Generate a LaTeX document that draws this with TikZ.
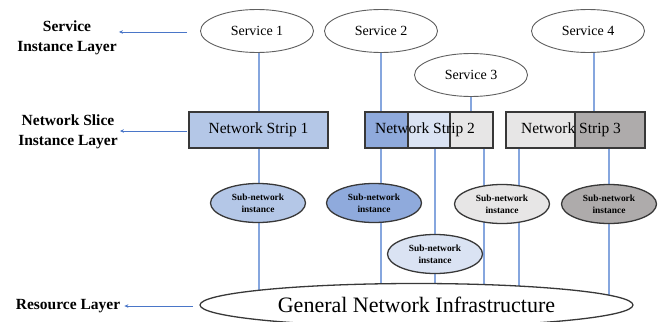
\documentclass[tikz,border=0pt]{standalone}
\usepackage{fontspec}
\setmainfont{Liberation Serif}
\usetikzlibrary{shapes.geometric,arrows.meta,backgrounds}

\definecolor{stripblue}{HTML}{B4C7E7}
\definecolor{deepblue}{HTML}{8FAADC}
\definecolor{paleblue}{HTML}{DAE3F3}
\definecolor{palegrey}{HTML}{E7E6E6}
\definecolor{darkgrey}{HTML}{AEABAB}
\definecolor{linkblue}{HTML}{86A6DE}
\definecolor{arrowblue}{HTML}{4A76C8}
\definecolor{edge}{HTML}{383838}

\tikzset{
  service/.style={ellipse, draw=edge!80, line width=0.9pt, fill=white, inner sep=0pt,
    minimum width=113pt, minimum height=43pt, font=\fontsize{14}{16}\selectfont},
  stripbox/.style={rectangle, draw=edge, line width=1.3pt, inner sep=0pt,
    minimum height=36pt, font=\fontsize{15.5}{18}\selectfont},
  subnet/.style={ellipse, draw=edge, line width=1.3pt, inner sep=0pt,
    minimum width=95pt, minimum height=39pt, align=center,
    font=\bfseries\fontsize{9.4}{12.3}\selectfont},
  layerlabel/.style={align=center, inner sep=2pt, font=\bfseries\fontsize{15.5}{20}\selectfont},
  layerarrow/.style={draw=arrowblue, line width=0.8pt, -{Stealth[length=4pt,width=3.5pt]}},
  link/.style={draw=linkblue, line width=1.8pt},
  striplabel/.style={inner sep=0pt, font=\fontsize{15.5}{18}\selectfont}
}

\begin{document}
\begin{tikzpicture}[x=1pt, y=-1pt]
  \useasboundingbox (0,0) rectangle (658,321);
  \clip (0,0) rectangle (658,321);

  % Services
  \node[service] (sv1) at (257,31) {Service 1};
  \node[service] (sv2) at (381,31) {Service 2};
  \node[service] (sv3) at (471,75) {Service 3};
  \node[service] (sv4) at (588,31) {Service 4};

  % Network strips
  \node[stripbox, fill=stripblue, minimum width=139pt] (st1) at (258.5,130) {Network Strip 1};
  \node[stripbox, fill=deepblue,  minimum width=43pt] (s2a) at (386.5,130) {};
  \node[stripbox, fill=paleblue,  minimum width=42pt] (s2b) at (429,130) {};
  \node[stripbox, fill=palegrey,  minimum width=43pt] (s2c) at (471.5,130) {};
  \node[striplabel] (t2) at (425,130) {Network Strip 2};
  \node[stripbox, fill=palegrey,  minimum width=69pt] (s3a) at (540.5,130) {};
  \node[stripbox, fill=darkgrey,  minimum width=70pt] (s3b) at (610,130) {};
  \node[striplabel] (t3) at (571,130) {Network Strip 3};

  % Sub-network instances
  \node[subnet, fill=stripblue] (sn1) at (258,203) {Sub-network\\instance};
  \node[subnet, fill=deepblue]  (sn2) at (374,203) {Sub-network\\instance};
  \node[subnet, fill=paleblue]  (sn3) at (435,254) {Sub-network\\instance};
  \node[subnet, fill=palegrey]  (sn4) at (502,204) {Sub-network\\instance};
  \node[subnet, fill=darkgrey]  (sn5) at (609,204) {Sub-network\\instance};

  % Infrastructure
  \node[ellipse, draw=edge, line width=1.3pt, fill=white, inner sep=0pt,
        minimum width=433pt, minimum height=43pt,
        font=\fontsize{22}{24}\selectfont] (gni) at (416.5,305) {General Network Infrastructure};

  % Layer labels
  \node[layerlabel] (l1) at (67,38) {Service\\Instance Layer};
  \node[layerlabel] (l2) at (68,132) {Network Slice\\Instance Layer};
  \node[layerlabel] (l3) at (68,306) {Resource Layer};
  \coordinate (a1) at (187,32);
  \coordinate (a2) at (187,131);
  \coordinate (a3) at (193,306);
  \draw[layerarrow] (a1) -- (a1 -| l1.east);
  \draw[layerarrow] (a2) -- (a2 -| l2.east);
  \draw[layerarrow] (a3) -- ([xshift=2pt]a3 -| l3.east);

  % Vertical drop positions
  \coordinate (k1) at (259,0);
  \coordinate (k2) at (381,0);
  \coordinate (k3) at (435,0);
  \coordinate (k4) at (484,0);
  \coordinate (k5) at (519,0);
  \coordinate (k6) at (609,0);
  \coordinate (k7) at (471,0);
  \coordinate (k8) at (594,0);

  \begin{scope}[on background layer]
    % service to strip
    \draw[link] (sv1.south -| k1) -- (st1.north -| k1);
    \draw[link] (sv2.south -| k2) -- (s2a.north -| k2);
    \draw[link] (sv3.south -| k7) -- (s2c.north -| k7);
    \draw[link] (sv4.center -| k8) -- (s3b.north -| k8);
    % strip through sub-network to infrastructure
    \draw[link] (st1.south -| k1) -- (sn1.north -| k1);
    \draw[link] (sn1.south -| k1) -- (gni.center -| k1);
    \draw[link] (s2a.south -| k2) -- (sn2.north -| k2);
    \draw[link] (sn2.south -| k2) -- (gni.center -| k2);
    \draw[link] (s2b.south -| k3) -- (sn3.north -| k3);
    \draw[link] (sn3.south -| k3) -- (gni.center -| k3);
    \draw[link] (s2c.south -| k4) -- (gni.center -| k4);
    \draw[link] (s3a.south -| k5) -- (gni.center -| k5);
    \draw[link] (s3b.south -| k6) -- (sn5.north -| k6);
    \draw[link] (sn5.south -| k6) -- (gni.center -| k6);
  \end{scope}
\end{tikzpicture}
\end{document}
